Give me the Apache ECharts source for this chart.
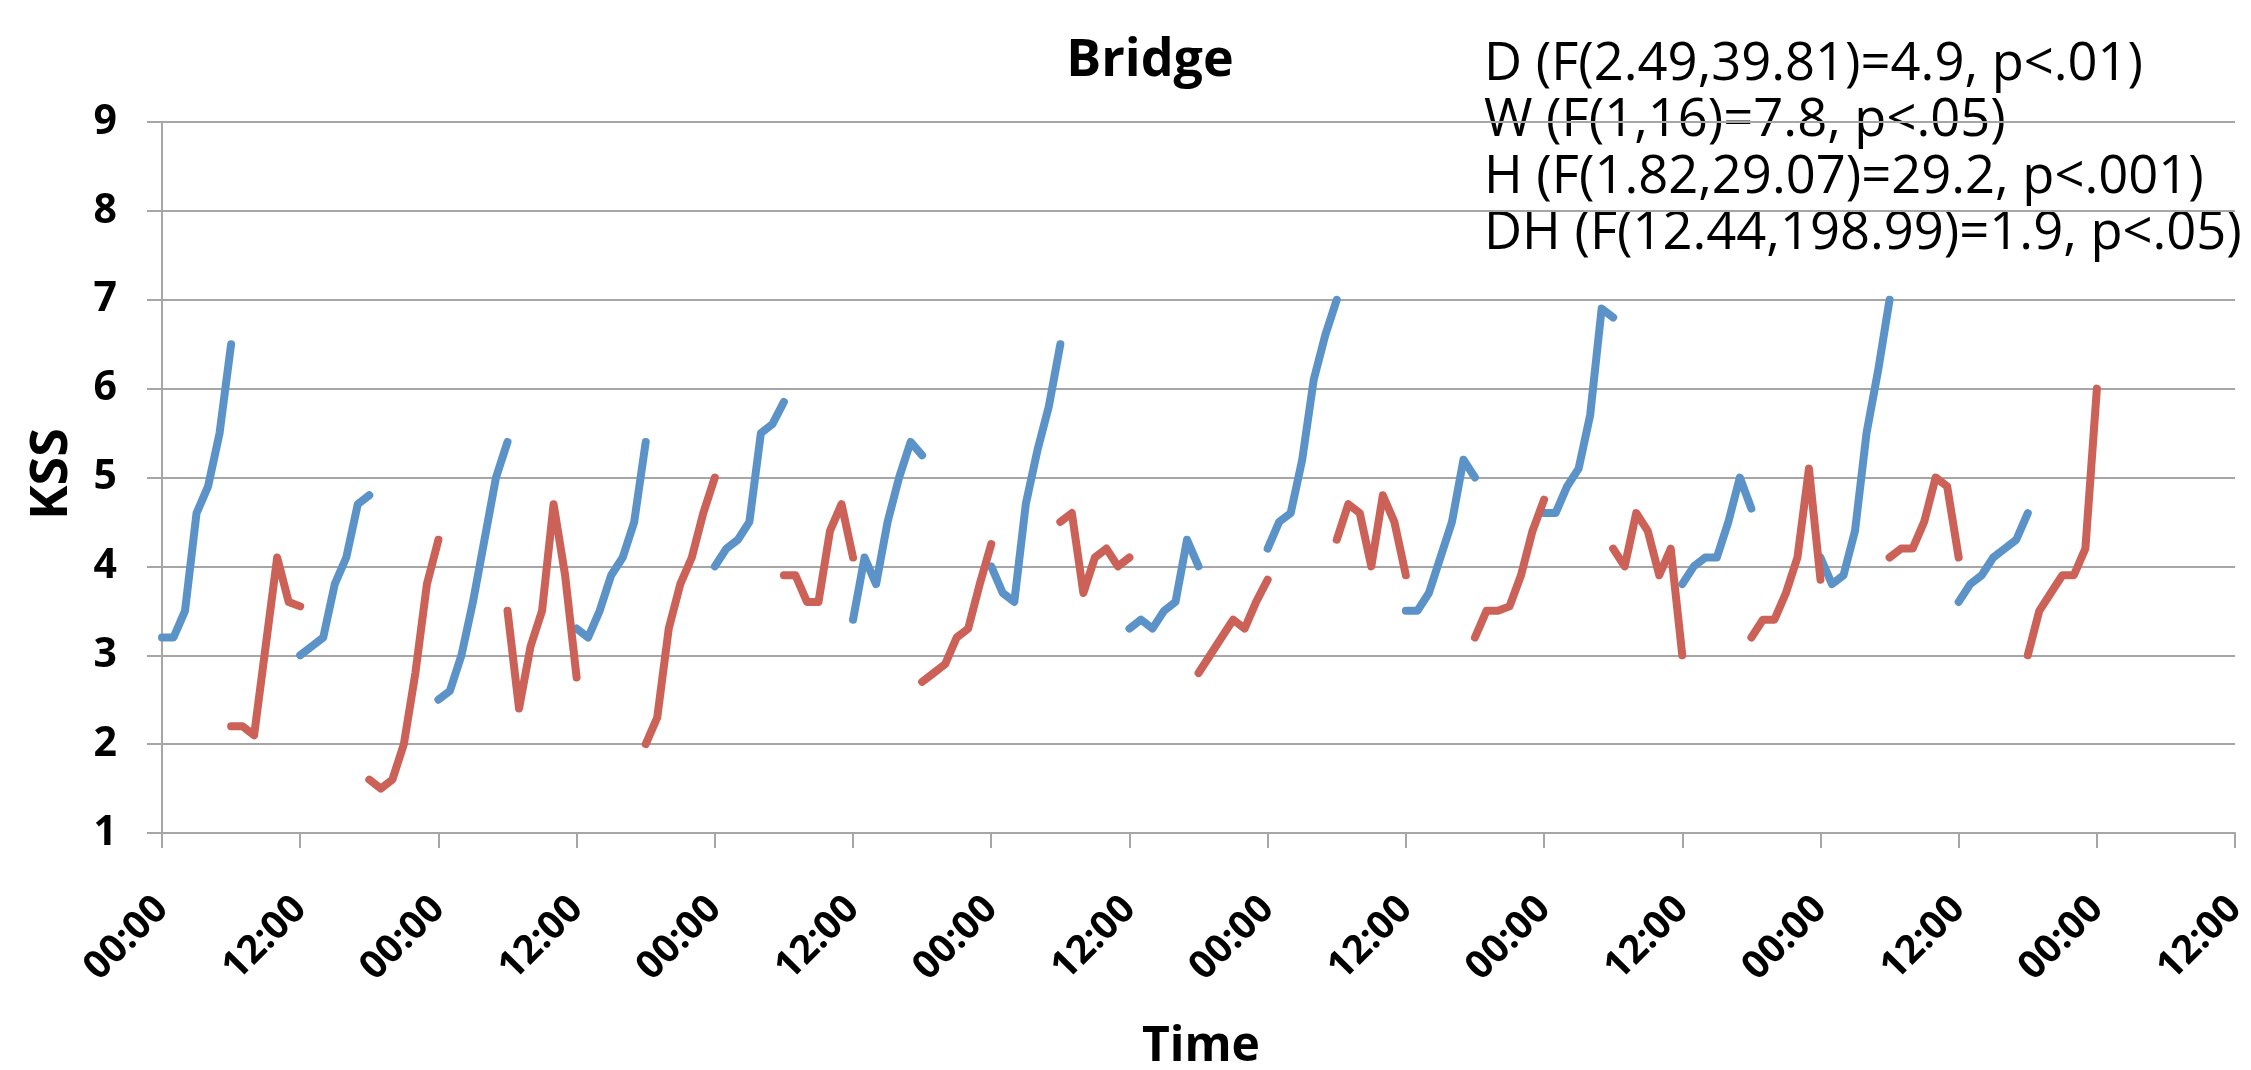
<!DOCTYPE html>
<html>
<head>
<meta charset="utf-8">
<script src="https://cdn.jsdelivr.net/npm/echarts@6/dist/echarts.min.js"></script>
<style>
  html, body { margin: 0; padding: 0; background: #ffffff; }
  #chart { width: 2251px; height: 1070px; }
</style>
</head>
<body>
<div id="chart"></div>
<script>
// ---- Data (KSS values, hourly, each block = 7 hourly readings) ----
const tickLabels = ['00:00','12:00','00:00','12:00','00:00','12:00','00:00','12:00',
                    '00:00','12:00','00:00','12:00','00:00','12:00','00:00','12:00'];

const blueStarts = [0, 12, 24, 36, 48, 60, 72, 84, 96, 108, 120, 132, 144, 156];
const blueBlocks = [
  [3.2, 3.2, 3.5, 4.6, 4.9, 5.5, 6.5],
  [3.0, 3.1, 3.2, 3.8, 4.1, 4.7, 4.8],
  [2.5, 2.6, 3.0, 3.6, 4.3, 5.0, 5.4],
  [3.3, 3.2, 3.5, 3.9, 4.1, 4.5, 5.4],
  [4.0, 4.2, 4.3, 4.5, 5.5, 5.6, 5.85],
  [3.4, 4.1, 3.8, 4.5, 5.0, 5.4, 5.25],
  [4.0, 3.7, 3.6, 4.7, 5.3, 5.8, 6.5],
  [3.3, 3.4, 3.3, 3.5, 3.6, 4.3, 4.0],
  [4.2, 4.5, 4.6, 5.2, 6.1, 6.6, 7.0],
  [3.5, 3.5, 3.7, 4.1, 4.5, 5.2, 5.0],
  [4.6, 4.6, 4.9, 5.1, 5.7, 6.9, 6.8],
  [3.8, 4.0, 4.1, 4.1, 4.5, 5.0, 4.65],
  [4.1, 3.8, 3.9, 4.4, 5.5, 6.2, 7.0],
  [3.6, 3.8, 3.9, 4.1, 4.2, 4.3, 4.6]
];

const redStarts = [6, 18, 30, 42, 54, 66, 78, 90, 102, 114, 126, 138, 150, 162];
const redBlocks = [
  [2.2, 2.2, 2.1, 3.1, 4.1, 3.6, 3.55],
  [1.6, 1.5, 1.6, 2.0, 2.8, 3.8, 4.3],
  [3.5, 2.4, 3.1, 3.5, 4.7, 3.9, 2.75],
  [2.0, 2.3, 3.3, 3.8, 4.1, 4.6, 5.0],
  [3.9, 3.9, 3.6, 3.6, 4.4, 4.7, 4.1],
  [2.7, 2.8, 2.9, 3.2, 3.3, 3.8, 4.25],
  [4.5, 4.6, 3.7, 4.1, 4.2, 4.0, 4.1],
  [2.8, 3.0, 3.2, 3.4, 3.3, 3.6, 3.85],
  [4.3, 4.7, 4.6, 4.0, 4.8, 4.5, 3.9],
  [3.2, 3.5, 3.5, 3.55, 3.9, 4.4, 4.75],
  [4.2, 4.0, 4.6, 4.4, 3.9, 4.2, 3.0],
  [3.2, 3.4, 3.4, 3.7, 4.1, 5.1, 3.85],
  [4.1, 4.2, 4.2, 4.5, 5.0, 4.9, 4.1],
  [3.0, 3.5, 3.7, 3.9, 3.9, 4.2, 6.0]
];

const statLines = [
  'D (F(2.49,39.81)=4.9, p<.01)',
  'W (F(1,16)=7.8, p<.05)',
  'H (F(1.82,29.07)=29.2, p<.001)',
  'DH (F(12.44,198.99)=1.9, p<.05)'
];

// Build [hour, value] data with breaks between blocks
function buildSeries(starts, blocks) {
  const out = [];
  starts.forEach((s, bi) => {
    blocks[bi].forEach((v, i) => out.push([s + i, v]));
    out.push([s + 9, '-']);
  });
  return out;
}

const FONT = '"Open Sans", "Noto Sans", sans-serif';
const GRID = '#a6a6a6';

const chart = echarts.init(document.getElementById('chart'), null, { renderer: 'canvas' });

const option = {
  backgroundColor: '#ffffff',
  animation: false,
  grid: { left: 162, right: 13, top: 122, bottom: 237, containLabel: false },
  xAxis: {
    type: 'value',
    min: 0, max: 180, interval: 12,
    axisLine: { show: true, lineStyle: { color: GRID, width: 2 } },
    axisTick: { show: true, inside: false, length: 15, lineStyle: { color: GRID, width: 2 } },
    splitLine: { show: false },
    axisLabel: {
      rotate: 45,
      margin: 70,
      fontFamily: FONT, fontWeight: 'bold', fontSize: 39, color: '#000000',
      showMinLabel: true, showMaxLabel: true,
      formatter: v => tickLabels[Math.round(v / 12)]
    }
  },
  yAxis: {
    type: 'value',
    min: 1, max: 9, interval: 1,
    axisLine: { show: true, lineStyle: { color: GRID, width: 2 } },
    axisTick: { show: true, inside: false, length: 15, lineStyle: { color: GRID, width: 2 } },
    splitLine: { show: true, lineStyle: { color: GRID, width: 2 } },
    axisLabel: {
      margin: 45,
      fontFamily: FONT, fontWeight: 'bold', fontSize: 41, color: '#000000'
    }
  },
  series: [
    {
      name: 'Blue', type: 'line',
      data: buildSeries(blueStarts, blueBlocks),
      showSymbol: false, connectNulls: false, z: 2,
      lineStyle: { color: '#5b93c9', width: 8, cap: 'round', join: 'round' },
      itemStyle: { color: '#5b93c9' }
    },
    {
      name: 'Red', type: 'line',
      data: buildSeries(redStarts, redBlocks),
      showSymbol: false, connectNulls: false, z: 3,
      lineStyle: { color: '#cc6158', width: 8, cap: 'round', join: 'round' },
      itemStyle: { color: '#cc6158' }
    }
  ],
  graphic: [
    { type: 'text', x: 1150, y: 61,
      style: { text: 'Bridge', font: 'bold 52px ' + FONT, fill: '#000', align: 'center', verticalAlign: 'middle' } },
    { type: 'text', x: 52, y: 474, rotation: Math.PI / 2,
      style: { text: 'KSS', font: 'bold 52px ' + FONT, fill: '#000', align: 'center', verticalAlign: 'middle' } },
    { type: 'text', x: 1201, y: 1047,
      style: { text: 'Time', font: 'bold 48px ' + FONT, fill: '#000', align: 'center', verticalAlign: 'middle' } }
  ].concat(statLines.map((t, i) => ({
    type: 'text', x: 1484, y: 65 + i * 56.5,
    style: { text: t, font: '52.5px ' + FONT, fill: '#000', align: 'left', verticalAlign: 'middle' }
  })))
};

chart.setOption(option);
</script>
</body>
</html>
